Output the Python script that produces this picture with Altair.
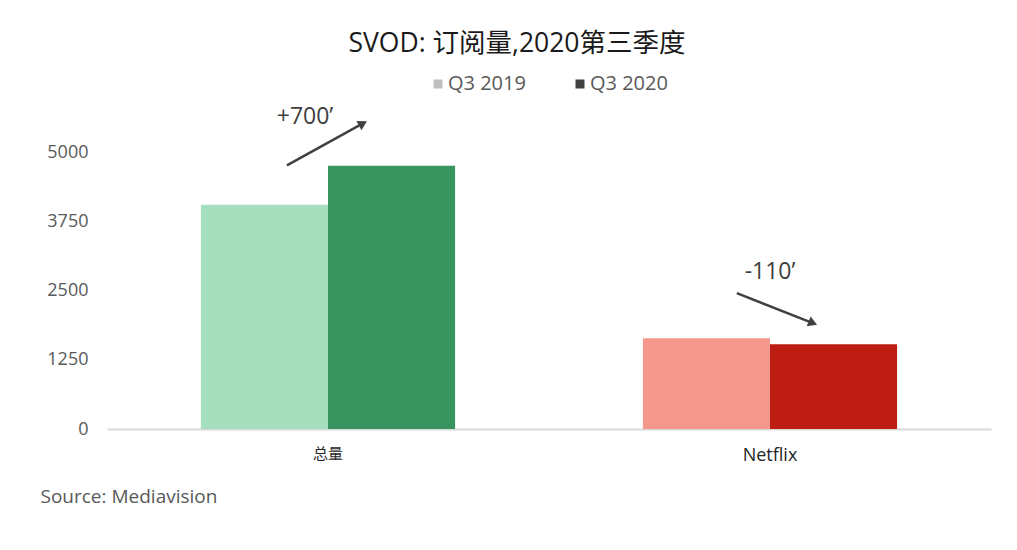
import altair as alt
import pandas as pd

# ---- data ----
categories = ["总量", "Netflix"]
years = ["Q3 2019", "Q3 2020"]
values_2019 = [4050, 1640]
values_2020 = [4750, 1530]
y_ticks = [0, 1250, 2500, 3750, 5000]
change_labels = ["+700’", "-110’"]

# ---- styles ----
bar_colors = ["#a6dfbd", "#38955f", "#f4978c", "#bd1d12"]
legend_colors = ["#bfbfbf", "#404040"]
FONT = "Open Sans, Noto Sans CJK SC"

rows = []
for i, c in enumerate(categories):
    for yr, vals in zip(years, [values_2019, values_2020]):
        rows.append({"category": c, "idx": i, "year": yr, "value": vals[i], "key": c + "|" + yr})
df = pd.DataFrame(rows)
keys = list(df["key"])

# ---- annotation placement (x offsets from each category centre in category units, y in data units) ----
arrow_dx0 = [-0.093, -0.075]
arrow_dx1 = [0.079, 0.097]
arrow_y0 = [4760, 2452]
arrow_y1 = [5517, 1911]
arrow_angle = [61, 112]
label_dx = [-0.052, 0.0]
label_y = [5630, 2840]
cat_idx = list(range(len(categories)))
ann = pd.DataFrame({
    "x0": [i + d for i, d in zip(cat_idx, arrow_dx0)],
    "x1": [i + d for i, d in zip(cat_idx, arrow_dx1)],
    "y0": arrow_y0, "y1": arrow_y1, "ang": arrow_angle,
    "lx": [i + d for i, d in zip(cat_idx, label_dx)],
    "ly": label_y, "label": change_labels,
})

yscale = alt.Scale(domain=[0, 5000], nice=False, zero=True)
ann_x = alt.Scale(domain=[-0.5, 1.5], nice=False, zero=False)

bars = alt.Chart(df).mark_bar().encode(
    x=alt.X(
        "category:N", sort=categories,
        scale=alt.Scale(paddingInner=0.425, paddingOuter=0.2125),
        axis=alt.Axis(
            title="Source: Mediavision", labelAngle=0, ticks=False, tickSize=0,
            domainColor="#d9d9d9", domainWidth=2, labelPadding=17,
            labelFont=FONT, labelColor="#262626",
            labelFontSize={"condition": {"test": "datum.value == '总量'", "value": 15}, "value": 18},
            titleX=-67, titleY=67, titleAlign="left", titleAnchor="start",
            titleBaseline="middle", titleFont=FONT, titleFontSize=19,
            titleFontWeight="normal", titleColor="#595959",
        ),
    ),
    xOffset=alt.XOffset("year:N", sort=years, scale=alt.Scale(paddingInner=0, paddingOuter=0)),
    y=alt.Y(
        "value:Q", scale=yscale,
        axis=alt.Axis(
            values=y_ticks, format="d", title=None, ticks=False, domain=False, grid=False,
            labelPadding=19, labelFont=FONT, labelFontSize=18, labelColor="#595959",
        ),
    ),
    fill=alt.Fill("key:N", scale=alt.Scale(domain=keys, range=bar_colors), legend=None),
)

legend_layer = alt.Chart(df).mark_point(filled=True, shape="square", opacity=0).encode(
    x=alt.X("idx:Q", scale=ann_x, axis=None),
    y=alt.Y("value:Q", scale=yscale),
    color=alt.Color(
        "year:N", sort=years, scale=alt.Scale(domain=years, range=legend_colors),
        legend=alt.Legend(
            title=None, orient="none", legendX=321, legendY=-78, direction="horizontal",
            symbolType="square", symbolSize=81, symbolOpacity=1, symbolStrokeWidth=0,
            labelFont=FONT, labelFontSize=20, labelColor="#595959",
            labelOffset=0, columnPadding=44,
        ),
    ),
)

arrows = alt.Chart(ann).mark_rule(color="#404040", strokeWidth=2.5).encode(
    x=alt.X("x0:Q", scale=ann_x, axis=None),
    x2="x1:Q",
    y=alt.Y("y0:Q", scale=yscale),
    y2="y1:Q",
)

heads = alt.Chart(ann).mark_point(
    shape="triangle-up", filled=True, color="#404040", opacity=1, size=110
).encode(
    x=alt.X("x1:Q", scale=ann_x, axis=None),
    y=alt.Y("y1:Q", scale=yscale),
    angle=alt.Angle("ang:Q", scale=None),
)

labels = alt.Chart(ann).mark_text(
    font=FONT, fontSize=23, color="#404040", align="center", baseline="middle"
).encode(
    x=alt.X("lx:Q", scale=ann_x, axis=None),
    y=alt.Y("ly:Q", scale=yscale),
    text="label:N",
)

overlay = alt.layer(legend_layer, arrows, heads, labels)

chart = alt.layer(bars, overlay).resolve_scale(x="independent").properties(
    width=884, height=277,
    background="white",
    title=alt.TitleParams(
        "SVOD: 订阅量,2020第三季度", font=FONT, fontSize=26.5, fontWeight="normal",
        color="#1a1a1a", anchor="middle", dx=-32, offset=17,
    ),
    autosize=alt.AutoSizeParams(type="none"),
    padding={"left": 99, "top": 144, "right": 18, "bottom": 113},
).configure_view(stroke="transparent", strokeWidth=0)

chart.save("out.html", embed_options={"renderer": "svg", "actions": False})
